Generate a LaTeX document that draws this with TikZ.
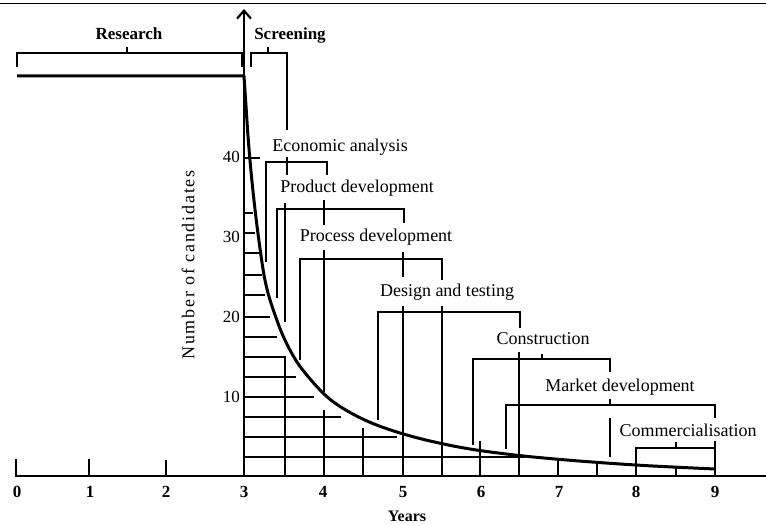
\documentclass[tikz,border=0pt]{standalone}
\usepackage{fontspec}
\setmainfont{Liberation Serif}
\usetikzlibrary{arrows.meta}

\begin{document}
\begin{tikzpicture}[
stage/.style={inner sep=0pt, anchor=base, font=\fontsize{18}{20}\selectfont},
head/.style={inner sep=0pt, anchor=base, font=\fontsize{17}{20}\selectfont\bfseries},
num/.style={inner sep=0pt, font=\fontsize{17}{20}\selectfont},
bar/.style={line width=1.3pt},
rung/.style={line width=1.2pt},
axis/.style={line width=2.2pt},
cand/.style={line width=3pt, line join=round}]
\useasboundingbox (0pt,0pt) rectangle (766pt,-526pt);
\draw [line width=0.8pt] (0pt,-3pt) -- (766pt,-3pt);
% axes
\draw [axis] (15pt,-476pt) -- (766pt,-476pt);
\draw [axis, -{Straight Barb[length=8pt,width=14pt]}] (244pt,-477pt) -- (244pt,-9pt);
\draw [bar] (16pt,-476pt) -- (16pt,-459pt);
\draw [bar] (89pt,-476pt) -- (89pt,-459pt);
\draw [bar] (166pt,-476pt) -- (166pt,-460pt);
\draw [rung] (244pt,-158pt) -- (260pt,-158pt);
% rungs under the curve
\draw [rung] (244pt,-213pt) -- (253pt,-213pt);
\draw [rung] (244pt,-233pt) -- (255pt,-233pt);
\draw [rung] (244pt,-253pt) -- (259pt,-253pt);
\draw [rung] (244pt,-275pt) -- (262pt,-275pt);
\draw [rung] (244pt,-295pt) -- (265pt,-295pt);
\draw [rung] (244pt,-317pt) -- (270pt,-317pt);
\draw [rung] (244pt,-337pt) -- (277pt,-337pt);
\draw [rung] (244pt,-357pt) -- (285pt,-357pt) -- (285pt,-476pt);
\draw [rung] (244pt,-377pt) -- (296pt,-377pt);
\draw [rung] (244pt,-397pt) -- (314pt,-397pt);
\draw [rung] (244pt,-417pt) -- (341pt,-417pt);
\draw [rung] (244pt,-437pt) -- (397pt,-437pt);
\draw [rung] (244pt,-457pt) -- (525pt,-457pt);
\draw [rung] (324pt,-410pt) -- (324pt,-476pt);
\draw [rung] (363pt,-428pt) -- (363pt,-476pt);
\draw [rung] (480pt,-441pt) -- (480pt,-476pt);
\draw [rung] (558pt,-460pt) -- (558pt,-476pt);
\draw [rung] (597pt,-463pt) -- (597pt,-476pt);
\draw [rung] (676pt,-467pt) -- (676pt,-476pt);
% stage brackets
\draw [bar] (17pt,-67pt) -- (17pt,-53pt) -- (242pt,-53pt) -- (242pt,-67pt);
\draw [bar] (127pt,-53pt) -- (127pt,-47pt);
\draw [bar] (251pt,-67pt) -- (251pt,-53pt) -- (287pt,-53pt) -- (287pt,-130pt);
\draw [bar] (268pt,-53pt) -- (268pt,-47pt);
\draw [bar] (266pt,-262pt) -- (266pt,-162pt) -- (327pt,-162pt) -- (327pt,-175pt);
\draw [bar] (287pt,-157pt) -- (287pt,-175pt);
\draw [bar] (277pt,-298pt) -- (277pt,-209pt) -- (404pt,-209pt) -- (404pt,-223pt);
\draw [bar] (285pt,-203pt) -- (285pt,-322pt);
\draw [bar] (324pt,-200pt) -- (324pt,-225pt);
\draw [bar] (324pt,-250pt) -- (324pt,-392pt);
\draw [bar] (300pt,-360pt) -- (300pt,-259pt) -- (442pt,-259pt) -- (442pt,-280pt);
\draw [bar] (403pt,-252pt) -- (403pt,-277pt);
\draw [bar] (378pt,-420pt) -- (378pt,-312pt) -- (520pt,-312pt) -- (520pt,-328pt);
\draw [bar] (403pt,-306pt) -- (403pt,-476pt);
\draw [bar] (442pt,-306pt) -- (442pt,-476pt);
\draw [bar] (473pt,-445pt) -- (473pt,-359pt) -- (610pt,-359pt) -- (610pt,-372pt);
\draw [bar] (542pt,-354pt) -- (542pt,-359pt);
\draw [bar] (519pt,-352pt) -- (519pt,-476pt);
\draw [bar] (506pt,-449pt) -- (506pt,-405pt) -- (715pt,-405pt) -- (715pt,-418pt);
\draw [bar] (610pt,-399pt) -- (610pt,-405pt);
\draw [bar] (610pt,-418pt) -- (610pt,-457pt);
\draw [bar] (636pt,-476pt) -- (636pt,-448pt) -- (715pt,-448pt);
\draw [bar] (715pt,-441pt) -- (715pt,-476pt);
\draw [bar] (676pt,-442pt) -- (676pt,-448pt);
% candidates
\draw [cand] (17pt,-76pt) -- plot [smooth, tension=0.55] coordinates {(244pt,-76pt) (246pt,-106pt) (248pt,-136pt) (250.5pt,-166pt) (253.5pt,-196pt) (257pt,-226pt) (260.5pt,-252pt) (264pt,-275pt) (268pt,-293pt) (274pt,-312pt) (284pt,-338pt) (299pt,-365pt) (323pt,-393pt) (344pt,-409pt) (374pt,-424pt) (414pt,-437pt) (464pt,-448pt) (519pt,-455.5pt) (579pt,-461pt) (644pt,-465.5pt) (715pt,-469pt)};
% labels
\node (research) [head] at (129pt,-40pt) {Research};
\node (screening) [head] at (290pt,-40pt) {Screening};
\node (econ) [stage] at (340pt,-152pt) {Economic analysis};
\node (product) [stage] at (357pt,-193pt) {Product development};
\node (process) [stage] at (376pt,-242pt) {Process development};
\node (design) [stage] at (447pt,-297pt) {Design and testing};
\node (constr) [stage] at (543pt,-345pt) {Construction};
\node (market) [stage] at (620pt,-392pt) {Market development};
\node (comm) [stage] at (688pt,-437pt) {Commercialisation};
\node (ylabel) [num, rotate=90, font=\fontsize{18}{20}\selectfont\addfontfeatures{LetterSpace=10}] at (188pt,-265pt) {Number of candidates};
\node (y40) [num, anchor=east] at (240pt,-157pt) {40};
\node (y30) [num, anchor=east] at (240pt,-237pt) {30};
\node (y20) [num, anchor=east] at (240pt,-317pt) {20};
\node (y10) [num, anchor=east] at (240pt,-397pt) {10};
\node (x0) [num, font=\fontsize{17}{20}\selectfont\bfseries] at (17pt,-492pt) {0};
\node (x1) [num, font=\fontsize{17}{20}\selectfont\bfseries] at (90pt,-492pt) {1};
\node (x2) [num, font=\fontsize{17}{20}\selectfont\bfseries] at (166pt,-492pt) {2};
\node (x3) [num, font=\fontsize{17}{20}\selectfont\bfseries] at (244pt,-492pt) {3};
\node (x4) [num, font=\fontsize{17}{20}\selectfont\bfseries] at (323pt,-492pt) {4};
\node (x5) [num, font=\fontsize{17}{20}\selectfont\bfseries] at (403pt,-492pt) {5};
\node (x6) [num, font=\fontsize{17}{20}\selectfont\bfseries] at (481pt,-492pt) {6};
\node (x7) [num, font=\fontsize{17}{20}\selectfont\bfseries] at (559pt,-492pt) {7};
\node (x8) [num, font=\fontsize{17}{20}\selectfont\bfseries] at (636pt,-492pt) {8};
\node (x9) [num, font=\fontsize{17}{20}\selectfont\bfseries] at (715pt,-492pt) {9};
\node (years) [num, font=\fontsize{16}{18}\selectfont\bfseries] at (407pt,-516pt) {Years};
\end{tikzpicture}
\end{document}
